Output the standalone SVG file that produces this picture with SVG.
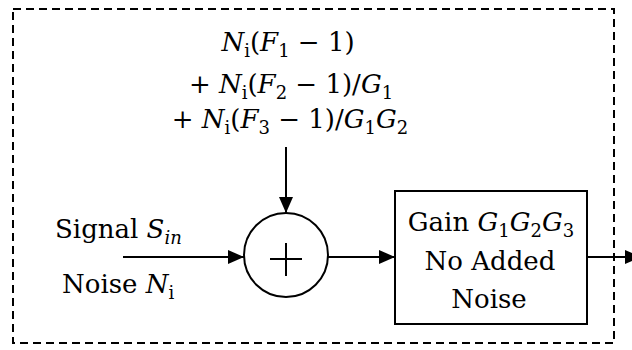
<svg xmlns="http://www.w3.org/2000/svg" width="632" height="350" viewBox="0 0 632 350">
<defs>
<style>
.t{font-family:'DejaVu Serif',serif;font-size:26px;fill:#000}
.i{font-style:italic}
.s{font-size:18px}
.ln{stroke:#000;stroke-width:2;fill:none}
</style>
<marker id="ah" markerWidth="16" markerHeight="14" refX="16" refY="7" orient="auto" markerUnits="userSpaceOnUse">
<path d="M0,0 L16,7 L0,14 Z" fill="#000"/>
</marker>
</defs>
<rect width="632" height="350" fill="#fff"/>
<rect id="boundary" x="13" y="9" width="601" height="334" fill="none" stroke="#000" stroke-width="2" stroke-dasharray="8 5"/>
<g id="noise-label">
<text class="t" x="288" y="51" text-anchor="middle"><tspan class="i">N</tspan><tspan class="s" dy="6">i</tspan><tspan dy="-6">(</tspan><tspan class="i">F</tspan><tspan class="s" dy="6">1</tspan><tspan dy="-6"> − 1)</tspan></text>
<text class="t" x="291" y="93" text-anchor="middle">+ <tspan class="i">N</tspan><tspan class="s" dy="6">i</tspan><tspan dy="-6">(</tspan><tspan class="i">F</tspan><tspan class="s" dy="6">2</tspan><tspan dy="-6"> − 1)/</tspan><tspan class="i">G</tspan><tspan class="s" dy="6">1</tspan></text>
<text class="t" x="290" y="128" text-anchor="middle">+ <tspan class="i">N</tspan><tspan class="s" dy="6">i</tspan><tspan dy="-6">(</tspan><tspan class="i">F</tspan><tspan class="s" dy="6">3</tspan><tspan dy="-6"> − 1)/</tspan><tspan class="i">G</tspan><tspan class="s" dy="6">1</tspan><tspan class="i" dy="-6">G</tspan><tspan class="s" dy="6">2</tspan></text>
</g>
<g id="input-label">
<text class="t" x="55" y="238">Signal <tspan class="i">S</tspan><tspan class="i s" dy="6">in</tspan></text>
<text class="t" x="62" y="293">Noise <tspan class="i">N</tspan><tspan class="s" dy="6">i</tspan></text>
</g>
<g id="adder">
<circle cx="286" cy="255" r="42" class="ln"/>
<path d="M270,259 H302 M286,243 V276" class="ln"/>
</g>
<g id="amplifier">
<rect x="395" y="191" width="192" height="133" class="ln"/>
<text class="t" x="491" y="231" text-anchor="middle">Gain <tspan class="i">G</tspan><tspan class="s" dy="6">1</tspan><tspan class="i" dy="-6">G</tspan><tspan class="s" dy="6">2</tspan><tspan class="i" dy="-6">G</tspan><tspan class="s" dy="6">3</tspan></text>
<text class="t" x="490" y="270" text-anchor="middle">No Added</text>
<text class="t" x="489" y="308" text-anchor="middle">Noise</text>
</g>
<g id="connectors">
<line x1="286" y1="147" x2="286" y2="213" class="ln" marker-end="url(#ah)"/>
<line x1="123" y1="257" x2="244" y2="257" class="ln" marker-end="url(#ah)"/>
<line x1="328" y1="257" x2="395" y2="257" class="ln" marker-end="url(#ah)"/>
<line x1="587" y1="257" x2="641" y2="257" class="ln" marker-end="url(#ah)"/>
</g>
</svg>
